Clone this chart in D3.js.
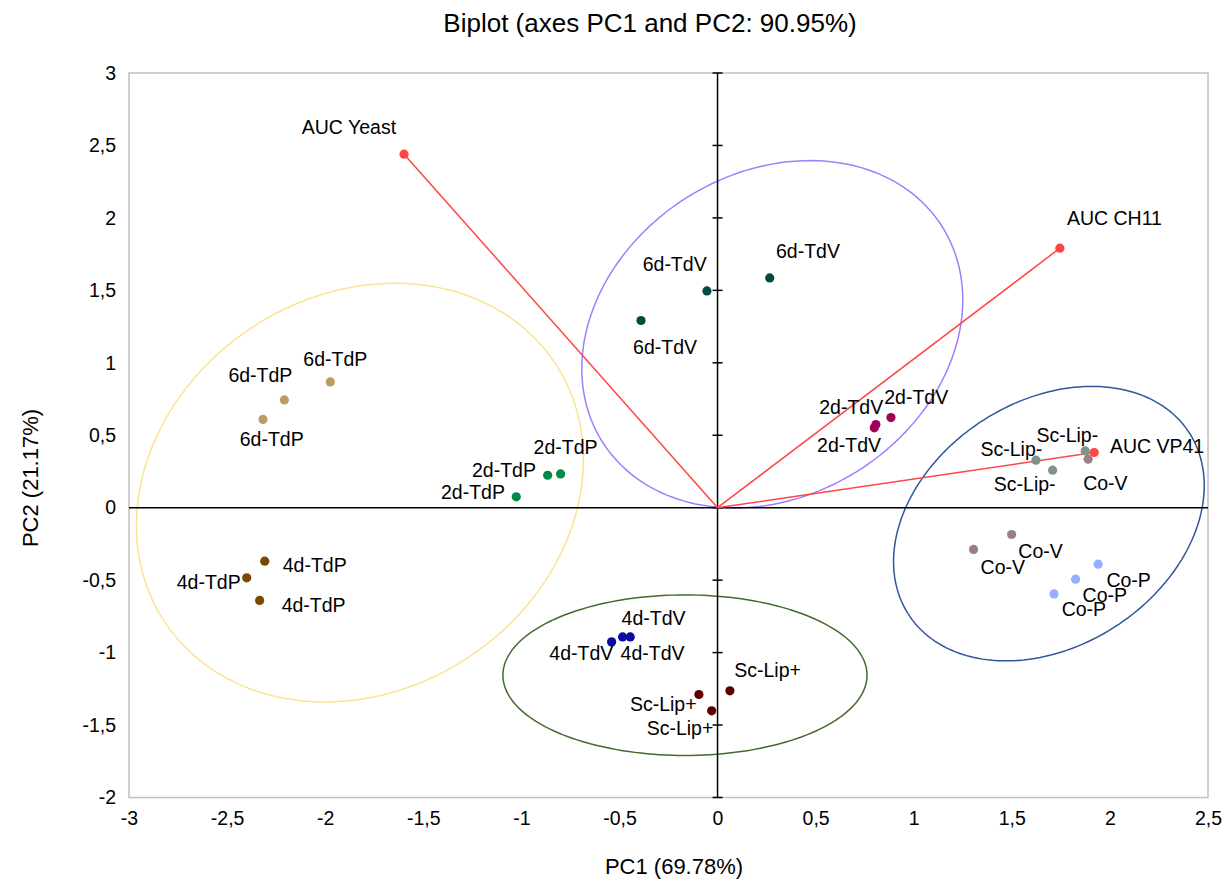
<!DOCTYPE html>
<html lang="en">
<head>
<meta charset="utf-8">
<title>Biplot (axes PC1 and PC2)</title>
<script src="https://cdn.jsdelivr.net/npm/d3@7"></script>
<style>
  body { margin: 0; background: #fff; }
  text { font-family: "Liberation Sans", Arial, sans-serif; fill: #000; }
</style>
</head>
<body>
<script>
// observations (PC1, PC2 scores)
var obsLabel = ["6d-TdP", "6d-TdP", "6d-TdP",
                "2d-TdP", "2d-TdP", "2d-TdP",
                "4d-TdP", "4d-TdP", "4d-TdP",
                "6d-TdV", "6d-TdV", "6d-TdV",
                "2d-TdV", "2d-TdV", "2d-TdV",
                "4d-TdV", "4d-TdV", "4d-TdV",
                "Sc-Lip+", "Sc-Lip+", "Sc-Lip+",
                "Sc-Lip-", "Sc-Lip-", "Sc-Lip-",
                "Co-V", "Co-V", "Co-V",
                "Co-P", "Co-P", "Co-P"];
var obsPC1 = [-1.974, -2.208, -2.317,
              -0.866, -0.800, -1.026,
              -2.308, -2.400, -2.334,
               0.266, -0.054, -0.390,
               0.884,  0.807,  0.799,
              -0.540, -0.484, -0.445,
               0.063, -0.095, -0.030,
               1.623,  1.708,  1.874,
               1.889,  1.499,  1.305,
               1.940,  1.825,  1.715];
var obsPC2 = [ 0.868,  0.744,  0.609,
               0.224,  0.233,  0.075,
              -0.369, -0.484, -0.640,
               1.586,  1.496,  1.292,
               0.622,  0.574,  0.551,
              -0.926, -0.892, -0.892,
              -1.264, -1.289, -1.402,
               0.328,  0.259,  0.392,
               0.335, -0.185, -0.288,
              -0.390, -0.493, -0.595];

// variables (loadings)
var varLabel = ["AUC Yeast", "AUC CH11", "AUC VP41"];
var varPC1 = [-1.598, 1.745, 1.920];
var varPC2 = [ 2.440, 1.791, 0.381];

// group ellipses: centre, semi axes, angle (deg) in PC units
var ellName = ["TdP", "TdV 2d/6d", "Co/Sc-Lip-", "TdV 4d/Sc-Lip+"];
var ellCX = [-1.823, 0.279, 1.689, -0.166];
var ellCY = [ 0.104, 1.197, -0.110, -1.156];
var ellA = [1.471, 1.236, 1.005, 0.928];
var ellB = [1.105, 0.923, 0.717, 0.554];
var ellAngle = [73.4, 68.5, 61.5, 0];

var xTickValues = [-3, -2.5, -2, -1.5, -1, -0.5, 0, 0.5, 1, 1.5, 2, 2.5];
var yTickValues = [-2, -1.5, -1, -0.5, 0, 0.5, 1, 1.5, 2, 2.5, 3];

// styles
var groupColor = {
  "6d-TdP": "#bc9b68", "2d-TdP": "#008a46", "4d-TdP": "#7a4900",
  "6d-TdV": "#004c3e", "2d-TdV": "#a10058", "4d-TdV": "#0a0aa6",
  "Sc-Lip+": "#5c0000", "Sc-Lip-": "#7f928c", "Co-V": "#9c7e87", "Co-P": "#92b1ff"
};
var ellColor = ["#fde38f", "#9e7eff", "#2f569b", "#446b2b"];
var red = "#ff4545";

// label placement [dx, dy, anchor] in px, same order as obs
var obsLabelPos = [
  [5, -15.7, "middle"], [-24, -18, "middle"], [8.7, 26.7, "middle"],
  [-11.7, 1.7, "end"], [5, -20.4, "middle"], [-11.3, 2.3, "end"],
  [18, 10.7, "start"], [-6, 11.6, "end"], [22, 12, "start"],
  [6.3, -19.4, "start"], [-0.3, -20, "end"], [24, 34, "middle"],
  [-6.7, -14, "start"], [7.3, -11, "end"], [6.7, 24, "end"],
  [1.7, 17.7, "end"], [-2, 22.7, "start"], [-8.7, -11.7, "start"],
  [4.3, -13.4, "start"], [-2.3, 16.4, "end"], [1.7, 24.3, "end"],
  [6.3, -4, "end"], [3, 20.7, "end"], [13, -9, "end"],
  [-5, 31, "start"], [6.7, 23, "start"], [7, 24.7, "start"],
  [8.3, 22.7, "start"], [7, 22.7, "start"], [7.7, 22.3, "start"]
];
var varLabelPos = [[-8, -19.7, "end"], [7, -23, "start"], [15.7, 1, "start"]];

var width = 1226, height = 881;
var plot = { left: 129, right: 1208, top: 73, bottom: 797.5 };

var svg = d3.select("body").append("svg")
  .attr("width", width)
  .attr("height", height);

var x = d3.scaleLinear().domain([-3, 2.5]).range([plot.left, plot.right]);
var y = d3.scaleLinear().domain([-2, 3]).range([plot.bottom, plot.top]);
var fmt = function(d) { return String(d).replace(".", ","); };

// frame
svg.append("rect")
  .attr("x", plot.left).attr("y", plot.top)
  .attr("width", plot.right - plot.left).attr("height", plot.bottom - plot.top)
  .attr("fill", "none").attr("stroke", "#c0c0c0").attr("stroke-width", 1.5);

// tick labels
svg.append("g")
  .attr("transform", "translate(0," + plot.bottom + ")")
  .call(d3.axisBottom(x).tickValues(xTickValues).tickFormat(fmt).tickSize(0).tickPadding(14));
svg.append("g")
  .attr("transform", "translate(" + plot.left + ",0)")
  .call(d3.axisLeft(y).tickValues(yTickValues).tickFormat(fmt).tickSize(0).tickPadding(13));
svg.selectAll(".domain").remove();
svg.selectAll(".tick text")
  .attr("font-family", "Liberation Sans, Arial, sans-serif")
  .attr("font-size", 19.5)
  .attr("fill", "#000");

// ellipses
var line = d3.line().curve(d3.curveLinearClosed);
svg.selectAll("path.ell")
  .data(ellName)
  .enter()
  .append("path")
  .attr("class", "ell")
  .attr("fill", "none")
  .attr("stroke", function(d, i) { return ellColor[i]; })
  .attr("stroke-width", 1.5)
  .attr("d", function(d, i) {
    var th = ellAngle[i] * Math.PI / 180, pts = [];
    for (var k = 0; k < 180; k++) {
      var t = k / 180 * 2 * Math.PI;
      var px = ellCX[i] + ellA[i] * Math.cos(t) * Math.cos(th) - ellB[i] * Math.sin(t) * Math.sin(th);
      var py = ellCY[i] + ellA[i] * Math.cos(t) * Math.sin(th) + ellB[i] * Math.sin(t) * Math.cos(th);
      pts.push([x(px), y(py)]);
    }
    return line(pts);
  });

// zero axes
svg.append("line")
  .attr("x1", plot.left).attr("x2", plot.right)
  .attr("y1", y(0)).attr("y2", y(0))
  .attr("stroke", "#000").attr("stroke-width", 1.5);
svg.append("line")
  .attr("x1", x(0)).attr("x2", x(0))
  .attr("y1", plot.top).attr("y2", plot.bottom)
  .attr("stroke", "#000").attr("stroke-width", 1.5);
svg.selectAll("line.ytick")
  .data(yTickValues)
  .enter()
  .append("line")
  .attr("class", "ytick")
  .attr("x1", x(0) - 5).attr("x2", x(0) + 5)
  .attr("y1", function(d) { return y(d); })
  .attr("y2", function(d) { return y(d); })
  .attr("stroke", "#000").attr("stroke-width", 1.5);

// variable vectors
svg.selectAll("line.vec")
  .data(varLabel)
  .enter()
  .append("line")
  .attr("class", "vec")
  .attr("x1", x(0)).attr("y1", y(0))
  .attr("x2", function(d, i) { return x(varPC1[i]); })
  .attr("y2", function(d, i) { return y(varPC2[i]); })
  .attr("stroke", red).attr("stroke-width", 1.5);

// observation points
svg.selectAll("circle.obs")
  .data(obsLabel)
  .enter()
  .append("circle")
  .attr("class", "obs")
  .attr("cx", function(d, i) { return x(obsPC1[i]); })
  .attr("cy", function(d, i) { return y(obsPC2[i]); })
  .attr("r", 4.6)
  .attr("fill", function(d) { return groupColor[d]; });

svg.selectAll("circle.var")
  .data(varLabel)
  .enter()
  .append("circle")
  .attr("class", "var")
  .attr("cx", function(d, i) { return x(varPC1[i]); })
  .attr("cy", function(d, i) { return y(varPC2[i]); })
  .attr("r", 4.6)
  .attr("fill", red);

// labels
svg.selectAll("text.obs")
  .data(obsLabel)
  .enter()
  .append("text")
  .attr("class", "obs")
  .attr("x", function(d, i) { return x(obsPC1[i]) + obsLabelPos[i][0]; })
  .attr("y", function(d, i) { return y(obsPC2[i]) + obsLabelPos[i][1]; })
  .attr("text-anchor", function(d, i) { return obsLabelPos[i][2]; })
  .attr("font-size", 19.5)
  .text(function(d) { return d; });

svg.selectAll("text.var")
  .data(varLabel)
  .enter()
  .append("text")
  .attr("class", "var")
  .attr("x", function(d, i) { return x(varPC1[i]) + varLabelPos[i][0]; })
  .attr("y", function(d, i) { return y(varPC2[i]) + varLabelPos[i][1]; })
  .attr("text-anchor", function(d, i) { return varLabelPos[i][2]; })
  .attr("font-size", 19.5)
  .text(function(d) { return d; });

// titles
svg.append("text")
  .attr("x", 650).attr("y", 32)
  .attr("text-anchor", "middle")
  .attr("font-size", 26)
  .text("Biplot (axes PC1 and PC2: 90.95%)");
svg.append("text")
  .attr("x", 674).attr("y", 874)
  .attr("text-anchor", "middle")
  .attr("font-size", 22)
  .text("PC1 (69.78%)");
svg.append("text")
  .attr("transform", "translate(38,478) rotate(-90)")
  .attr("text-anchor", "middle")
  .attr("font-size", 22)
  .text("PC2 (21.17%)");
</script>
</body>
</html>
